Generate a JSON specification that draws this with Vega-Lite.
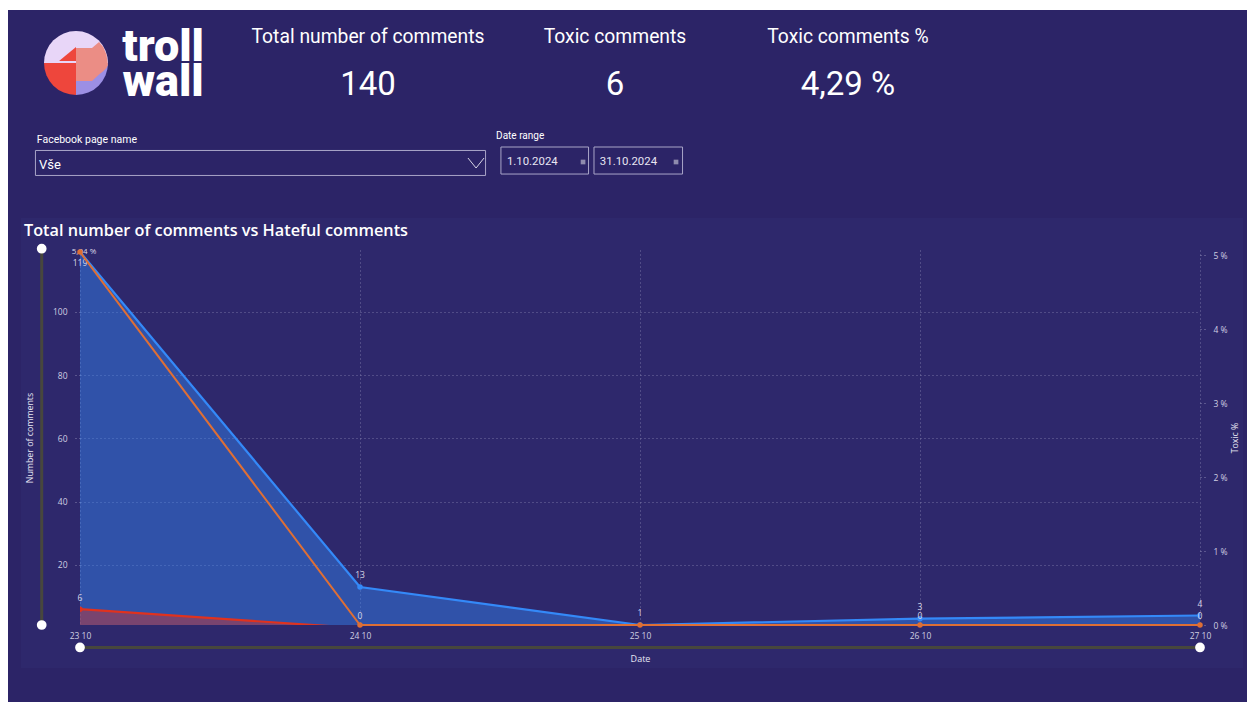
{
"$schema":"https://vega.github.io/schema/vega-lite/v6.json",
"padding":0,
"background":"#2C2467",
"config":{"view":{"stroke":null},"font":"Open Sans","concat":{"spacing":0}},
"spacing":0,
"vconcat":[
{"width":1247,"height":10,"view":{"fill":"#ffffff"},"data":{"values":[{}]},"mark":{"type":"point","opacity":0},"encoding":{}},
{"spacing":0,"hconcat":[
{"width":8,"height":692,"view":{"fill":"#ffffff"},"data":{"values":[{}]},"mark":{"type":"point","opacity":0},"encoding":{}},
{"spacing":0,"vconcat":[
{"spacing":0,"hconcat":[
{"width":236,"height":106,"resolve":{"scale":{"theta":"independent","color":"independent"}},"layer":[
{"data":{"values":[{"part":"a upper","share":180},{"part":"b right","share":90},{"part":"c left","share":90}]},
"mark":{"type":"arc","outerRadius":32},
"encoding":{"x":{"datum":0,"type":"quantitative","axis":null,"scale":{"domain":[-2.125,5.25]}},"y":{"datum":0,"type":"quantitative","axis":null,"scale":{"domain":[1.656,-1.656]}},"theta":{"field":"share","type":"quantitative","stack":true,"scale":{"range":[-1.5708,4.7124]}},"order":{"field":"part"},
"color":{"field":"part","type":"nominal","legend":null,"scale":{"domain":["a upper","b right","c left"],"range":["#E8D6F8","#9C8FE4","#EE463C"]}}}},
{"data":{"values":[{"u":-0.53,"v":-0.06,"v2":-0.06},{"u":0,"v":-0.5,"v2":-0.06}]},
"mark":{"type":"area","color":"#EE463C"},
"encoding":{"x":{"field":"u","type":"quantitative","axis":null,"scale":{"domain":[-2.125,5.25]}},"y":{"field":"v","type":"quantitative","axis":null,"scale":{"domain":[1.656,-1.656]}},"y2":{"field":"v2"}}},
{"data":{"values":[{"u":0,"v":-0.47,"v2":0.56},{"u":0.5,"v":-0.47,"v2":0.56},{"u":0.72,"v":-0.66,"v2":0.36},{"u":0.85,"v":-0.5,"v2":0.26},{"u":0.95,"v":-0.27,"v2":0.16},{"u":1,"v":0.06,"v2":0.06}]},
"mark":{"type":"area","color":"#EB8D85"},
"encoding":{"x":{"field":"u","type":"quantitative","axis":null,"scale":{"domain":[-2.125,5.25]}},"y":{"field":"v","type":"quantitative","axis":null,"scale":{"domain":[1.656,-1.656]}},"y2":{"field":"v2"}}},
{"data":{"values":[{"word":"troll"}]},"mark":{"type":"text","font":"Roboto","fontWeight":900,"fontSize":45,"color":"#ffffff"},
"encoding":{"x":{"datum":2.72,"type":"quantitative","axis":null,"scale":{"domain":[-2.125,5.25]}},"y":{"datum":-0.5,"type":"quantitative","axis":null,"scale":{"domain":[1.656,-1.656]}},"text":{"field":"word"}}},
{"data":{"values":[{"word":"wall"}]},"mark":{"type":"text","font":"Roboto","fontWeight":900,"fontSize":45,"color":"#ffffff"},
"encoding":{"x":{"datum":2.72,"type":"quantitative","axis":null,"scale":{"domain":[-2.125,5.25]}},"y":{"datum":0.58,"type":"quantitative","axis":null,"scale":{"domain":[1.656,-1.656]}},"text":{"field":"word"}}}
]},
{"width":248,"height":106,"data":{"values":[{"part":"name","text":"Total number of comments"},{"part":"value","text":"140"}]},
"mark":{"type":"text","font":"Roboto","color":"#ffffff"},
"encoding":{"y":{"field":"part","type":"nominal","axis":null,"scale":{"domain":["name","value"],"range":[27,75],"padding":0}},"size":{"field":"part","type":"nominal","legend":null,"scale":{"domain":["name","value"],"range":[19.3,33]}},"text":{"field":"text"}}},
{"width":246,"height":106,"data":{"values":[{"part":"name","text":"Toxic comments"},{"part":"value","text":"6"}]},
"mark":{"type":"text","font":"Roboto","color":"#ffffff"},
"encoding":{"y":{"field":"part","type":"nominal","axis":null,"scale":{"domain":["name","value"],"range":[27,75],"padding":0}},"size":{"field":"part","type":"nominal","legend":null,"scale":{"domain":["name","value"],"range":[19.3,33]}},"text":{"field":"text"}}},
{"width":220,"height":106,"data":{"values":[{"part":"name","text":"Toxic comments %"},{"part":"value","text":"4,29 %"}]},
"mark":{"type":"text","font":"Roboto","color":"#ffffff"},
"encoding":{"y":{"field":"part","type":"nominal","axis":null,"scale":{"domain":["name","value"],"range":[27,75],"padding":0}},"size":{"field":"part","type":"nominal","legend":null,"scale":{"domain":["name","value"],"range":[19.3,33]}},"text":{"field":"text"}}}
]},
{"spacing":0,"hconcat":[
{"width":26,"height":102,"data":{"values":[{}]},"mark":{"type":"point","opacity":0},"encoding":{}},
{"width":451,"height":102,"layer":[
{"data":{"values":[{}]},"mark":{"type":"rect","fill":null,"stroke":"#A9A5C8","strokeWidth":1},
"encoding":{"x":{"datum":0.001,"type":"quantitative","axis":null,"scale":{"domain":[0,1]}},"x2":{"datum":0.999},"y":{"datum":0.338,"type":"quantitative","axis":null,"scale":{"domain":[1,0]}},"y2":{"datum":0.583}}},
{"data":{"values":[{"u":0.96,"v":0.412},{"u":0.978,"v":0.51},{"u":0.9956,"v":0.412}]},"mark":{"type":"line","color":"#D8D6E6","strokeWidth":1},
"encoding":{"x":{"field":"u","type":"quantitative","axis":null,"scale":{"domain":[0,1]}},"y":{"field":"v","type":"quantitative","axis":null,"scale":{"domain":[1,0]}}}},
{"data":{"values":[{"selected":"Vše"}]},"mark":{"type":"text","align":"left","font":"Roboto","fontSize":13,"color":"#ffffff"},
"encoding":{"x":{"datum":0.009,"type":"quantitative","axis":null,"scale":{"domain":[0,1]}},"y":{"datum":0.48,"type":"quantitative","axis":null,"scale":{"domain":[1,0]}},"text":{"field":"selected"}}},
{"data":{"values":[{"label":"Facebook page name"}]},"mark":{"type":"text","align":"left","font":"Roboto","fontSize":10.5,"color":"#ffffff"},
"encoding":{"x":{"datum":0.004,"type":"quantitative","axis":null,"scale":{"domain":[0,1]}},"y":{"datum":0.235,"type":"quantitative","axis":null,"scale":{"domain":[1,0]}},"text":{"field":"label"}}}
]},
{"width":9,"height":102,"data":{"values":[{}]},"mark":{"type":"point","opacity":0},"encoding":{}},
{"width":93,"height":102,"layer":[
{"data":{"values":[{}]},"mark":{"type":"rect","fill":null,"stroke":"#A9A5C8","strokeWidth":1},
"encoding":{"x":{"datum":0.053,"type":"quantitative","axis":null,"scale":{"domain":[0,1]}},"x2":{"datum":0.995},"y":{"datum":0.304,"type":"quantitative","axis":null,"scale":{"domain":[1,0]}},"y2":{"datum":0.569}}},
{"data":{"values":[{"label":"Date range"}]},"mark":{"type":"text","align":"left","font":"Roboto","fontSize":10,"color":"#ffffff"},
"encoding":{"x":{"datum":0.001,"type":"quantitative","axis":null,"scale":{"domain":[0,1]}},"y":{"datum":0.196,"type":"quantitative","axis":null,"scale":{"domain":[1,0]}},"text":{"field":"label"}}},
{"data":{"values":[{"value":"1.10.2024"}]},"mark":{"type":"text","align":"left","font":"Roboto","fontSize":11.4,"color":"#E8E6F2"},
"encoding":{"x":{"datum":0.117,"type":"quantitative","axis":null,"scale":{"domain":[0,1]}},"y":{"datum":0.451,"type":"quantitative","axis":null,"scale":{"domain":[1,0]}},"text":{"field":"value"}}},
{"data":{"values":[{"icon":"calendar"}]},"mark":{"type":"square","size":22,"color":"#8F8BAE","opacity":1},
"encoding":{"x":{"datum":0.936,"type":"quantitative","axis":null,"scale":{"domain":[0,1]}},"y":{"datum":0.451,"type":"quantitative","axis":null,"scale":{"domain":[1,0]}}}}
]},
{"width":93,"height":102,"layer":[
{"data":{"values":[{}]},"mark":{"type":"rect","fill":null,"stroke":"#A9A5C8","strokeWidth":1},
"encoding":{"x":{"datum":0.043,"type":"quantitative","axis":null,"scale":{"domain":[0,1]}},"x2":{"datum":0.995},"y":{"datum":0.304,"type":"quantitative","axis":null,"scale":{"domain":[1,0]}},"y2":{"datum":0.569}}},
{"data":{"values":[{"value":"31.10.2024"}]},"mark":{"type":"text","align":"left","font":"Roboto","fontSize":11.4,"color":"#E8E6F2"},
"encoding":{"x":{"datum":0.106,"type":"quantitative","axis":null,"scale":{"domain":[0,1]}},"y":{"datum":0.451,"type":"quantitative","axis":null,"scale":{"domain":[1,0]}},"text":{"field":"value"}}},
{"data":{"values":[{"icon":"calendar"}]},"mark":{"type":"square","size":22,"color":"#8F8BAE","opacity":1},
"encoding":{"x":{"datum":0.925,"type":"quantitative","axis":null,"scale":{"domain":[0,1]}},"y":{"datum":0.451,"type":"quantitative","axis":null,"scale":{"domain":[1,0]}}}}
]}
]},
{"spacing":0,"hconcat":[
{"width":12,"height":10,"data":{"values":[{}]},"mark":{"type":"point","opacity":0},"encoding":{}},
{"width":1120,"height":375,
"title":{"text":"Total number of comments vs Hateful comments","anchor":"start","font":"Open Sans","fontSize":16.25,"fontWeight":600,"color":"#ffffff","dx":3,"offset":-21},
"data":{"values":[
{"day":"23 10","comments":119,"hateful":6,"toxicPct":5.04,"pctLabel":"5,04 %"},
{"day":"24 10","comments":13,"hateful":0,"toxicPct":0,"pctLabel":"0"},
{"day":"25 10","comments":1,"hateful":0,"toxicPct":0,"pctLabel":"0"},
{"day":"26 10","comments":3,"hateful":0,"toxicPct":0,"pctLabel":"0"},
{"day":"27 10","comments":4,"hateful":0,"toxicPct":0,"pctLabel":"0"}
]},
"resolve":{"scale":{"x":"independent","y":"independent"}},
"layer":[
{"data":{"values":[{}]},"mark":{"type":"rect","color":"#5A7FD0","opacity":0.05},
"encoding":{"x":{"datum":-0.0527,"type":"quantitative","axis":null,"scale":{"domain":[0,1]}},"x2":{"datum":1.0384},"y":{"datum":-0.1147,"type":"quantitative","axis":null,"scale":{"domain":[0,1]}},"y2":{"datum":1.0853}}},
{"mark":{"type":"area","clip":true,"color":"#3489F8","opacity":0.44},"encoding":{
"x":{"field":"day","type":"nominal","title":"Date","scale":{"type":"point","padding":0,"domain":["23 10","24 10","25 10","26 10","27 10"]},
"axis":{"labelAngle":0,"labelColor":"#D5D4E2","labelFontSize":8.5,"titleColor":"#EEEDF5","titleFontSize":9,"titleFontWeight":"normal","domain":false,"ticks":false,"labelPadding":6,"titlePadding":15,"grid":true,"gridColor":"#8A86B0","gridDash":[1,3],"gridOpacity":0.8}},
"y":{"field":"comments","type":"quantitative","title":"Number of comments","scale":{"domain":[1,119.6]},
"axis":{"values":[20,40,60,80,100],"labelColor":"#D5D4E2","labelFontSize":8.5,"titleColor":"#EEEDF5","titleFontSize":8.8,"titleFontWeight":"normal","domain":false,"tickSize":8,"tickColor":"#8A86B0","tickDash":[1,3],"labelPadding":5,"titlePadding":18,"grid":true,"gridColor":"#8A86B0","gridDash":[1,3],"gridOpacity":0.8}}}},
{"mark":{"type":"area","clip":true,"color":"#E0321E","opacity":0.42},"encoding":{"x":{"field":"day","type":"nominal","axis":null,"scale":{"type":"point","padding":0,"domain":["23 10","24 10","25 10","26 10","27 10"]}},"y":{"field":"hateful","type":"quantitative","axis":null,"scale":{"domain":[1,119.6]}}}},
{"mark":{"type":"line","clip":true,"color":"#3489F8","strokeWidth":2.2,"point":{"filled":true,"size":30,"color":"#3489F8","opacity":1}},"encoding":{"x":{"field":"day","type":"nominal","axis":null,"scale":{"type":"point","padding":0,"domain":["23 10","24 10","25 10","26 10","27 10"]}},"y":{"field":"comments","type":"quantitative","axis":null,"scale":{"domain":[1,119.6]}}}},
{"mark":{"type":"line","clip":true,"color":"#E0321E","strokeWidth":2.2,"point":{"filled":true,"size":30,"color":"#E0321E","opacity":1,"clip":true}},"encoding":{"x":{"field":"day","type":"nominal","axis":null,"scale":{"type":"point","padding":0,"domain":["23 10","24 10","25 10","26 10","27 10"]}},"y":{"field":"hateful","type":"quantitative","axis":null,"scale":{"domain":[1,119.6]}}}},
{"transform":[{"filter":"datum.day!='23 10'"}],"mark":{"type":"text","dy":-12,"fontSize":8.5,"color":"#DAD8E8"},"encoding":{"x":{"field":"day","type":"nominal","axis":null,"scale":{"type":"point","padding":0,"domain":["23 10","24 10","25 10","26 10","27 10"]}},"y":{"field":"comments","type":"quantitative","axis":null,"scale":{"domain":[1,119.6]}},"text":{"field":"comments"}}},
{"transform":[{"filter":"datum.day=='23 10'"}],"mark":{"type":"text","dy":11,"fontSize":8.5,"color":"#DAD8E8"},"encoding":{"x":{"field":"day","type":"nominal","axis":null,"scale":{"type":"point","padding":0,"domain":["23 10","24 10","25 10","26 10","27 10"]}},"y":{"field":"comments","type":"quantitative","axis":null,"scale":{"domain":[1,119.6]}},"text":{"field":"comments"}}},
{"transform":[{"filter":"datum.hateful>0"}],"mark":{"type":"text","dy":-11,"fontSize":8.5,"color":"#DAD8E8"},"encoding":{"x":{"field":"day","type":"nominal","axis":null,"scale":{"type":"point","padding":0,"domain":["23 10","24 10","25 10","26 10","27 10"]}},"y":{"field":"hateful","type":"quantitative","axis":null,"scale":{"domain":[1,119.6]}},"text":{"field":"hateful"}}},
{"transform":[{"filter":"datum.day=='23 10'"}],"mark":{"type":"text","dx":4,"fontSize":8,"color":"#DAD8E8"},"encoding":{"x":{"field":"day","type":"nominal","axis":null,"scale":{"type":"point","padding":0,"domain":["23 10","24 10","25 10","26 10","27 10"]}},"y":{"field":"toxicPct","type":"quantitative","axis":null,"scale":{"domain":[0,5.068]}},"text":{"field":"pctLabel"}}},
{"transform":[{"filter":"datum.day=='24 10'||datum.day=='26 10'||datum.day=='27 10'"}],"mark":{"type":"text","dy":-9,"fontSize":8.5,"color":"#DAD8E8"},"encoding":{"x":{"field":"day","type":"nominal","axis":null,"scale":{"type":"point","padding":0,"domain":["23 10","24 10","25 10","26 10","27 10"]}},"y":{"field":"toxicPct","type":"quantitative","axis":null,"scale":{"domain":[0,5.068]}},"text":{"field":"pctLabel"}}},
{"mark":{"type":"line","color":"#DE6F35","strokeWidth":2,"point":{"filled":true,"size":30,"color":"#DE6F35","opacity":1}},"encoding":{"x":{"field":"day","type":"nominal","axis":null,"scale":{"type":"point","padding":0,"domain":["23 10","24 10","25 10","26 10","27 10"]}},
"y":{"field":"toxicPct","type":"quantitative","title":"Toxic %","scale":{"domain":[0,5.068]},
"axis":{"orient":"right","values":[0,1,2,3,4,5],"labelExpr":"datum.value+' %'","labelColor":"#D5D4E2","labelFontSize":8.5,"titleColor":"#EEEDF5","titleFontSize":8.8,"titleFontWeight":"normal","titleAngle":270,"domain":false,"tickSize":7,"tickColor":"#8A86B0","tickDash":[1,3],"labelPadding":6,"titlePadding":12,"grid":false}}}},
{"data":{"values":[{"end":"23 10"},{"end":"27 10"}]},"mark":{"type":"line","color":"#47473D","strokeWidth":3,"clip":false},"encoding":{"x":{"field":"end","type":"nominal","axis":null,"scale":{"type":"point","padding":0,"domain":["23 10","24 10","25 10","26 10","27 10"]}},"y":{"datum":-6.1,"type":"quantitative","axis":null,"scale":{"domain":[1,119.6]}}}},
{"data":{"values":[{"end":"23 10"},{"end":"27 10"}]},"mark":{"type":"point","filled":true,"fill":"#ffffff","stroke":"#ffffff","size":60,"opacity":1},"encoding":{"x":{"field":"end","type":"nominal","axis":null,"scale":{"type":"point","padding":0,"domain":["23 10","24 10","25 10","26 10","27 10"]}},"y":{"datum":-6.1,"type":"quantitative","axis":null,"scale":{"domain":[1,119.6]}}}},
{"data":{"values":[{"handle":1},{"handle":120}]},"mark":{"type":"line","color":"#47473D","strokeWidth":3},"encoding":{"x":{"datum":-0.0342,"type":"quantitative","axis":null,"scale":{"domain":[0,1]}},"y":{"field":"handle","type":"quantitative","axis":null,"scale":{"domain":[1,119.6]}}}},
{"data":{"values":[{"handle":1},{"handle":120}]},"mark":{"type":"point","filled":true,"fill":"#ffffff","stroke":"#ffffff","size":60,"opacity":1},"encoding":{"x":{"datum":-0.0342,"type":"quantitative","axis":null,"scale":{"domain":[0,1]}},"y":{"field":"handle","type":"quantitative","axis":null,"scale":{"domain":[1,119.6]}}}}
]}
]}
]}
]}
]
}
